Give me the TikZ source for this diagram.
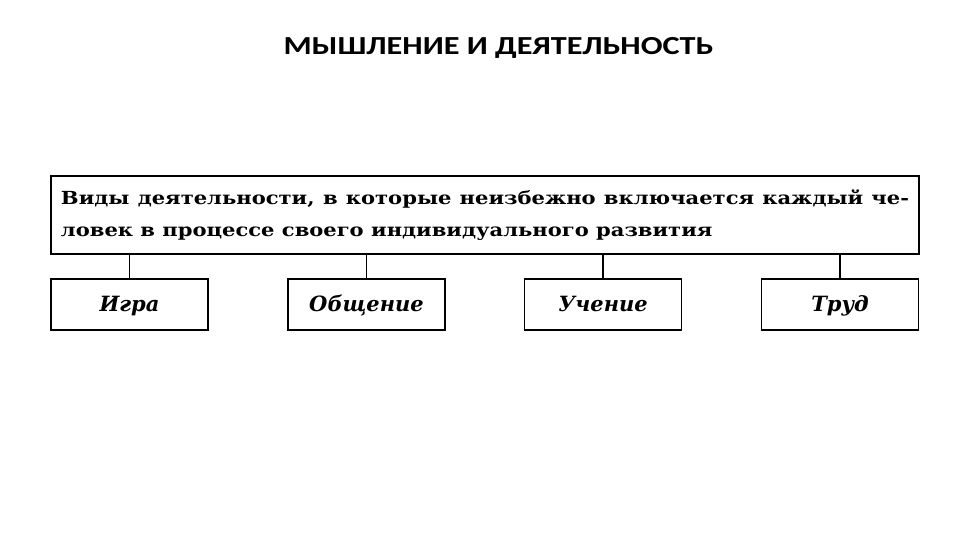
\documentclass[tikz,border=0pt]{standalone}
\usepackage{fontspec}
\setmainfont{DejaVu Serif}
\newfontfamily\titlefont{Carlito}
\usepackage{tikz}

\tikzset{
  mainbox/.style={draw, line width=1.2pt, minimum width=868pt, minimum height=78pt, inner sep=0pt},
  kindbox/.style={draw, line width=1.2pt, minimum width=157pt, minimum height=51pt, inner sep=0pt, text height=16pt, text depth=3pt, font=\fontsize{21}{23}\selectfont\bfseries\itshape}
}

\begin{document}
\begin{tikzpicture}[x=1pt, y=-1pt, >=stealth]
            \useasboundingbox (0,0) rectangle (960,540);
            % Title
            \node[font=\titlefont\bfseries\fontsize{26}{30}\selectfont] (title) at (498.5,47.5) {\scalebox{1.24}[1]{МЫШЛЕНИЕ И ДЕЯТЕЛЬНОСТЬ}};
            
            % Main box
            \node[mainbox] (kinds) at (485,215) {\scalebox{1.17}[1]{\parbox{724.8pt}{\fontsize{18}{32}\selectfont\bfseries\parindent=0pt\hyphenpenalty=10000
              Виды деятельности, в которые неизбежно включается каждый че-\linebreak ловек в процессе своего индивидуального развития}}};
            
            % Activities
            \node[kindbox] (game) at (129.5,304.5) {Игра};
            \node[kindbox] (talk) at (366.5,304.5) {Общение};
            \node[kindbox] (study) at (603,304.5) {Учение};
            \node[kindbox] (work) at (840,304.5) {Труд};
            
            % Connections
            \foreach \n in {game, talk, study, work}
              \draw[line width=1.2pt] (\n.north) -- (\n.north |- kinds.south);
        \end{tikzpicture}
\end{document}
